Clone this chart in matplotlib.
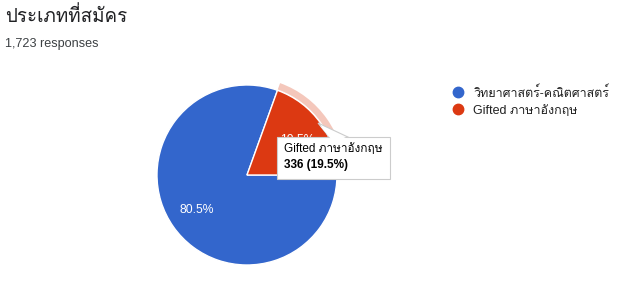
import matplotlib
matplotlib.use("Agg")
import matplotlib.pyplot as plt
from matplotlib import font_manager
from matplotlib.lines import Line2D
from matplotlib.patches import Wedge, Polygon, FancyBboxPatch
from fontTools.ttLib import TTFont

# data
title = "ประเภทที่สมัคร"
n_responses = "1,723 responses"
categories = ["วิทยาศาสตร์-คณิตศาสตร์", "Gifted ภาษาอังกฤษ"]
counts = [1387, 336]
colors = ["#3366cc", "#dc3912"]
hover_index = 1


def thai_families():
    # look for any installed font that can draw Thai
    found = []
    for f in font_manager.fontManager.ttflist:
        if f.name in found:
            continue
        try:
            cmap = TTFont(f.fname, fontNumber=0, lazy=True).getBestCmap()
        except Exception:
            continue
        if cmap and 0x0E1B in cmap:
            found.append(f.name)
    return found


fams = ["Arial", "Liberation Sans"] + thai_families() + ["DejaVu Sans"]
plt.rcParams["font.family"] = fams

W, H = 624, 288
fig = plt.figure(figsize=(W / 100, H / 100), dpi=100)
fig.patch.set_facecolor("white")

# pie axes, centre (247,175) px, radius 90 px
cx, cy, r = 247, 175, 90
box = 100
ax = fig.add_axes([(cx - box) / W, (H - cy - box) / H, 2 * box / W, 2 * box / H])
wedges, texts, autotexts = ax.pie(
    counts, colors=colors, startangle=0, counterclock=False,
    autopct="%1.1f%%", pctdistance=0.68,
    wedgeprops=dict(edgecolor="white", linewidth=1),
    textprops=dict(color="white", fontsize=8.7))
ax.set_xlim(-box / r, box / r)
ax.set_ylim(-box / r, box / r)
ax.set_aspect("equal")
ax.axis("off")

# hover ring around the selected slice
w = wedges[hover_index]
ax.add_patch(Wedge((0, 0), 1.085, w.theta1, w.theta2, width=0.075,
                   facecolor="#f4c7bb", edgecolor="none"))

# overlay in pixel coords for titles and tooltip
ov = fig.add_axes([0, 0, 1, 1], zorder=5)
ov.set_xlim(0, W)
ov.set_ylim(H, 0)
ov.axis("off")
ov.patch.set_alpha(0)

ov.text(5, 16, title, fontsize=13.5, color="#202124", va="center")
ov.text(5, 44, n_responses, fontsize=9.1, color="#3c4043", va="center")

# tooltip
ov.add_patch(Polygon([(318, 123), (330, 138), (350, 138)], closed=True,
                     facecolor="white", edgecolor="#cccccc", linewidth=0.8))
ov.add_patch(FancyBboxPatch((277, 137), 113, 42, boxstyle="square,pad=0",
                            facecolor="white", edgecolor="#cccccc", linewidth=0.8))
ov.add_patch(Polygon([(320, 126), (331, 139), (348, 139)], closed=True,
                     facecolor="white", edgecolor="none"))
pct = counts[hover_index] / sum(counts) * 100
ov.text(284, 149, categories[hover_index], fontsize=8.5, color="#000000", va="center")
ov.text(284, 165, f"{counts[hover_index]} ({pct:.1f}%)", fontsize=8.5,
        color="#000000", va="center", fontweight="bold")

# legend
handles = [Line2D([], [], marker="o", linestyle="none", markersize=7.5,
                  markerfacecolor=c, markeredgecolor=c) for c in colors]
fig.legend(handles, categories, loc="upper left", bbox_to_anchor=(439 / W, 1 - 75 / H),
           frameon=False, fontsize=9, handletextpad=0.65, labelspacing=0.4,
           handlelength=1.2, labelcolor="#222222")

fig.savefig("out.png", dpi=100, facecolor="white")
